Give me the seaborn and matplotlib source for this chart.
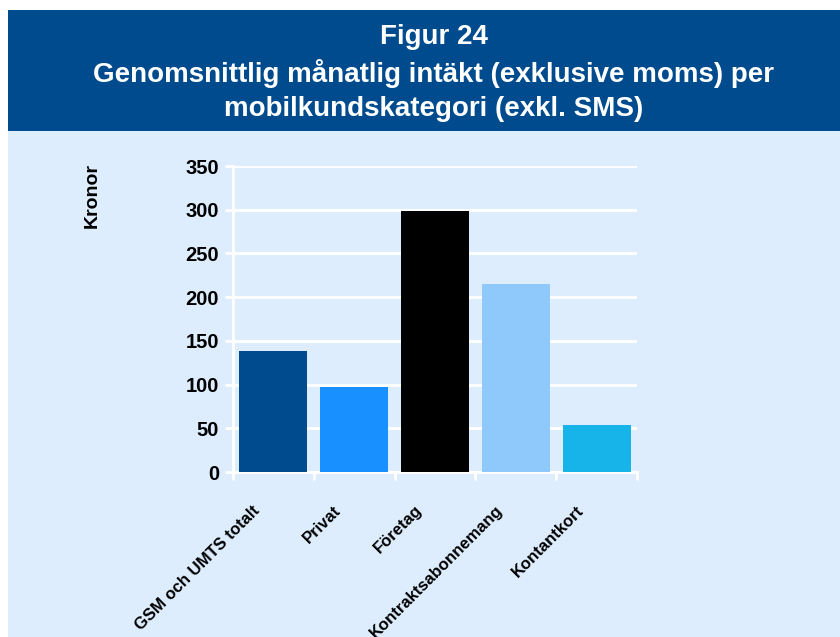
import pandas as pd
import matplotlib
matplotlib.use("Agg")
import matplotlib.pyplot as plt
import matplotlib.transforms as mtransforms
import seaborn as sns
from matplotlib.patches import Rectangle

kategorier = ['GSM och UMTS totalt', 'Privat', 'Företag', 'Kontraktsabonnemang', 'Kontantkort']
kronor = [138, 97, 299, 215, 54]
farger = ['#004B8D', '#1890FF', '#000000', '#8FC9FB', '#16B4E9']
y_ticks = [0, 50, 100, 150, 200, 250, 300, 350]

bg = '#DDEDFD'
banner = '#004B8D'

sns.set_theme(style='white')
plt.rcParams['font.family'] = ['Liberation Sans', 'DejaVu Sans']
plt.rcParams['text.color'] = 'black'
plt.rcParams['xtick.labelcolor'] = 'black'
plt.rcParams['ytick.labelcolor'] = 'black'

fig = plt.figure(figsize=(8.4, 6.37), dpi=100, facecolor=bg)

# vit kant uppe och till vänster, sedan rubrikband
fig.patches.append(Rectangle((0, 1 - 10/637), 1, 10/637, transform=fig.transFigure,
                             facecolor='white', edgecolor='none', zorder=-2))
fig.patches.append(Rectangle((0, 0), 8/840, 1, transform=fig.transFigure,
                             facecolor='white', edgecolor='none', zorder=-2))
fig.patches.append(Rectangle((8/840, 1 - 131/637), 1, 121/637, transform=fig.transFigure,
                             facecolor=banner, edgecolor='none', zorder=-2))
fig.text(0.516, 1 - 37/637, 'Figur 24', color='white', fontsize=20, fontweight='bold',
         ha='center', va='center')
fig.text(0.516, 1 - 90/637, 'Genomsnittlig månatlig intäkt (exklusive moms) per\nmobilkundskategori (exkl. SMS)',
         color='white', fontsize=20, fontweight='bold', ha='center', va='center', linespacing=1.4)

ax = fig.add_axes([233/840, 1 - 472/637, 404/840, 306/637])
ax.set_facecolor(bg)

df = pd.DataFrame({'kategori': kategorier, 'kronor': kronor})
sns.barplot(data=df, x='kategori', y='kronor', hue='kategori', palette=farger,
            width=0.84, legend=False, ax=ax, zorder=3, saturation=1, linewidth=0)

ax.set_ylim(0, 350)
ax.set_xlim(-0.5, 4.5)
ax.set_yticks(y_ticks)
ax.yaxis.grid(True, color='white', linewidth=2, zorder=0)
ax.set_axisbelow(True)
for s in ['top', 'right']:
    ax.spines[s].set_visible(False)
for s in ['left', 'bottom']:
    ax.spines[s].set_color('white')
    ax.spines[s].set_linewidth(2)

ax.set_xticks([-0.5, 0.5, 1.5, 2.5, 3.5, 4.5], minor=False)
ax.set_xticklabels([])
ax.set_xticks(range(len(kategorier)), minor=True)
ax.set_xticklabels(kategorier, minor=True, rotation=45, ha='right', rotation_mode='anchor',
                   fontsize=12, fontweight='bold', color='black')
ax.tick_params(axis='x', which='major', direction='out', length=6, width=2, color='white', bottom=True)
ax.tick_params(axis='x', which='minor', length=0, pad=22)
skift = mtransforms.ScaledTranslation(-21/100, 0, fig.dpi_scale_trans)
for t in ax.get_xticklabels(minor=True):
    t.set_transform(t.get_transform() + skift)
ax.tick_params(axis='y', direction='out', length=6, width=2, color='white', left=True,
               labelsize=14.5, pad=4, labelcolor='black')
for t in ax.get_yticklabels():
    t.set_fontweight('bold')

ax.set_xlabel('')
ax.set_ylabel('')
fig.text(92/840, 1 - 195/637, 'Kronor', rotation=90, fontsize=14, fontweight='bold',
         ha='center', va='center', color='black')

fig.savefig('out.png', dpi=100, facecolor=bg)
